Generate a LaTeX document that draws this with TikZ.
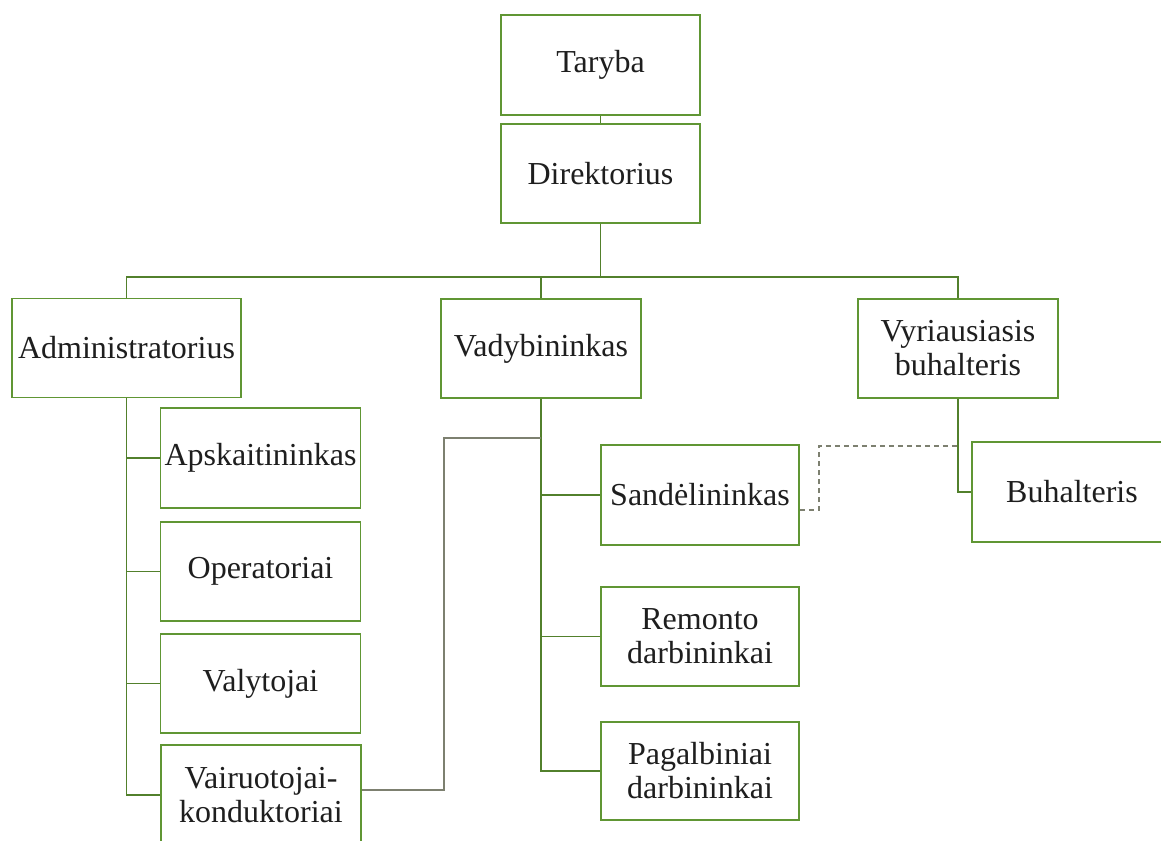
\documentclass[tikz,border=0pt]{standalone}
\usepackage{fontspec}
\setmainfont{Liberation Serif}
\definecolor{boxgreen}{RGB}{96,150,52}
\definecolor{linegrey}{RGB}{125,128,112}
\definecolor{txt}{RGB}{30,30,30}
\begin{document}
\begin{tikzpicture}[x=1pt,y=-1pt,
  box/.style={draw=boxgreen,line width=1.6pt,fill=white,inner sep=0pt,align=center,
    text=txt,font=\fontsize{32}{34}\selectfont},
  conn/.style={draw=boxgreen!85!black,line width=1.4pt},
  thinconn/.style={draw=linegrey,line width=1.1pt},
  dashconn/.style={draw=linegrey,line width=1.1pt,dash pattern=on 5pt off 4pt}]
\useasboundingbox (0,0) rectangle (1161,840);
\clip (0,0) rectangle (1161,840);
\fill[white] (0,0) rectangle (1161,840);
% nodes
\node[box,minimum width=199pt,minimum height=100pt] (taryba) at (600.5,65) {Taryba};
\node[box,minimum width=199pt,minimum height=99pt] (direk) at (600.5,173.5) {Direktorius};
\node[box,minimum width=229pt,minimum height=99pt] (admin) at (126.5,348) {Administratorius};
\node[box,minimum width=200pt,minimum height=99pt] (vady) at (541,348.5) {Vadybininkas};
\node[box,minimum width=200pt,minimum height=99pt] (vyr) at (958,348.5) {Vyriausiasis\\buhalteris};
\node[box,minimum width=200pt,minimum height=100pt] (apsk) at (260.5,458) {Apskaitininkas};
\node[box,minimum width=200pt,minimum height=99pt] (oper) at (260.5,571.5) {Operatoriai};
\node[box,minimum width=200pt,minimum height=99pt] (valy) at (260.5,683.5) {Valytojai};
\node[box,minimum width=200pt,minimum height=100pt] (vair) at (261,795) {Vairuotojai-\\konduktoriai};
\node[box,minimum width=198pt,minimum height=100pt] (sand) at (700,495) {Sandėlininkas};
\node[box,minimum width=198pt,minimum height=99pt] (remo) at (700,636.5) {Remonto\\darbininkai};
\node[box,minimum width=198pt,minimum height=98pt] (paga) at (700,771) {Pagalbiniai\\darbininkai};
\node[box,minimum width=200pt,minimum height=100pt] (buha) at (1072,492) {Buhalteris};
% coordinates
\coordinate (busL) at (126.5,277);
\coordinate (vj) at (444,438);
\coordinate (dj) at (819,446);
% connectors
\draw[conn] (taryba.south) -- (direk.north);
\draw[conn] (admin.north) -- (busL) -| (vyr.north);
\draw[conn] (direk.south) -- (direk.south |- busL);
\draw[conn] (vady.north) -- (vady.north |- busL);
% administratorius tree
\draw[conn] (admin.south) |- (vair.west);
\draw[conn] (admin.south |- apsk.west) -- (apsk.west);
\draw[conn] (admin.south |- oper.west) -- (oper.west);
\draw[conn] (admin.south |- valy.west) -- (valy.west);
% vadybininkas tree
\draw[conn] (vady.south) |- (paga.west);
\draw[conn] (vady.south |- sand.west) -- (sand.west);
\draw[conn] (vady.south |- remo.west) -- (remo.west);
% vyriausiasis buhalteris
\draw[conn] (vyr.south) |- (buha.west);
% extra links
\draw[thinconn] ([yshift=5pt]vair.east) -| (vj) -- (vady.south |- vj);
\draw[dashconn] ([yshift=-15pt]sand.east) -| (dj) -- (vyr.south |- dj);
\end{tikzpicture}
\end{document}
